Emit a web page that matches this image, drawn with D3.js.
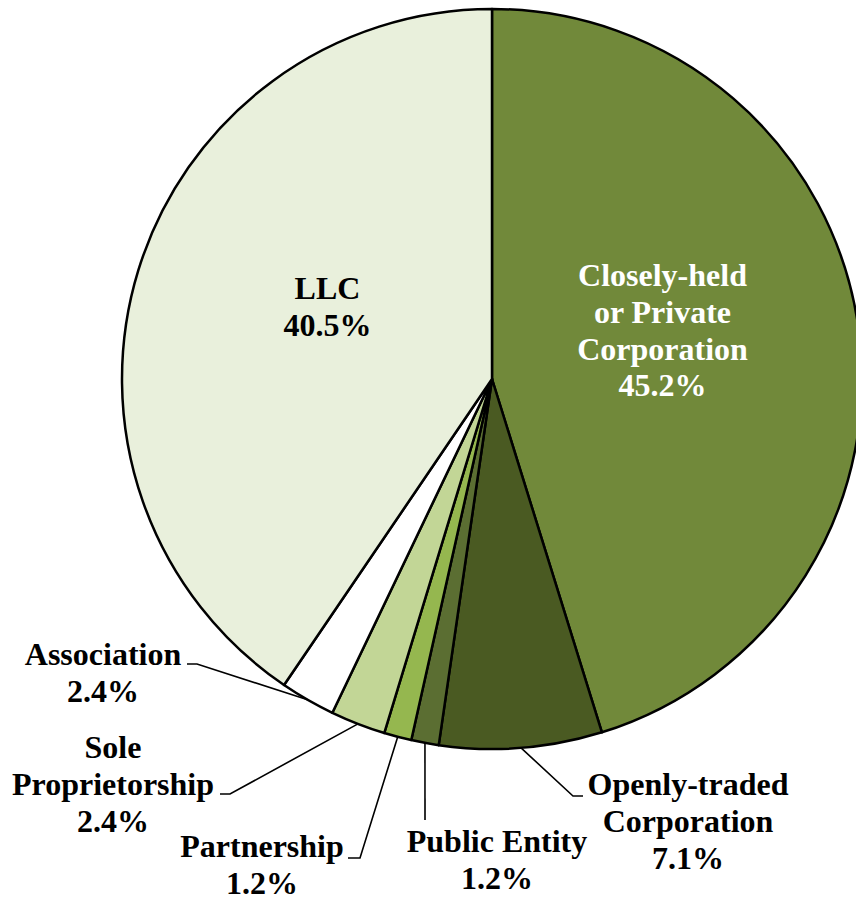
<!DOCTYPE html>
<html>
<head>
<meta charset="utf-8">
<script src="https://cdn.jsdelivr.net/npm/d3@7"></script>
<style>
  html, body { margin: 0; padding: 0; background: #fff; }
  svg { display: block; }
</style>
</head>
<body>
<svg id="chart" width="856" height="902"></svg>
<script>
// ---- data ----
const categories = ["Closely-held or Private Corporation", "Openly-traded Corporation", "Public Entity", "Partnership", "Sole Proprietorship", "Association", "LLC"];
const values = [45.2, 7.1, 1.2, 1.2, 2.4, 2.4, 40.5];
const labelLines = [
  ["Closely-held", "or Private", "Corporation"],
  ["Openly-traded", "Corporation"],
  ["Public Entity"],
  ["Partnership"],
  ["Sole", "Proprietorship"],
  ["Association"],
  ["LLC"]
];
const colors = ["#71893A", "#4A5A22", "#5B6E32", "#95B74F", "#C2D696", "#FFFFFF", "#E9F0DC"];

// ---- layout (styles / positions, not data) ----
const W = 856, H = 902;
const cx = 492, cy = 379, R = 370;
const fontSize = 32, lineH = 36.8;
// label anchor: x center, first baseline y; leader: elbow point and end point (null for none)
const labelLayout = [
  { x: 662.5, y: 286, fill: "#fff", leader: null },
  { x: 688, y: 795, fill: "#000", leader: [[573, 796], [583, 796]] },
  { x: 497, y: 852, fill: "#000", leader: [[425, 820]] },
  { x: 262, y: 857, fill: "#000", leader: [[360, 858], [348, 858]] },
  { x: 113, y: 758, fill: "#000", leader: [[230, 794], [220, 794]] },
  { x: 103, y: 665, fill: "#000", leader: [[197, 664], [187, 664]] },
  { x: 327.5, y: 299, fill: "#000", leader: null }
];

const svg = d3.select("#chart");
const g = svg.append("g").attr("transform", `translate(${cx},${cy})`);

const pie = d3.pie().sort(null).value(d => d.value);
const data = categories.map((c, i) => ({ name: c, value: values[i], i }));
const arcs = pie(data);
const arc = d3.arc().innerRadius(0).outerRadius(R);
const edgeArc = d3.arc().innerRadius(R).outerRadius(R);

g.selectAll("path.slice")
  .data(arcs)
  .join("path")
  .attr("class", "slice")
  .attr("d", arc)
  .attr("fill", d => colors[d.data.i])
  .attr("stroke", "#000")
  .attr("stroke-width", 2.5)
  .attr("stroke-linejoin", "round");

// leader lines
arcs.forEach(a => {
  const L = labelLayout[a.data.i];
  if (!L.leader) return;
  const [ex, ey] = edgeArc.centroid(a);
  const pts = [[cx + ex, cy + ey], ...L.leader];
  svg.append("path")
    .attr("d", d3.line()(pts))
    .attr("fill", "none")
    .attr("stroke", "#000")
    .attr("stroke-width", 1.6);
});

// labels
arcs.forEach(a => {
  const i = a.data.i;
  const L = labelLayout[i];
  const lines = labelLines[i].concat([values[i].toFixed(1) + "%"]);
  const t = svg.append("text")
    .attr("x", L.x)
    .attr("y", L.y)
    .attr("text-anchor", "middle")
    .attr("font-family", "'Liberation Serif', 'Times New Roman', serif")
    .attr("font-weight", "bold")
    .attr("font-size", fontSize)
    .attr("fill", L.fill);
  lines.forEach((ln, k) => {
    t.append("tspan")
      .attr("x", L.x)
      .attr("y", L.y + k * lineH)
      .text(ln);
  });
});
</script>
</body>
</html>
